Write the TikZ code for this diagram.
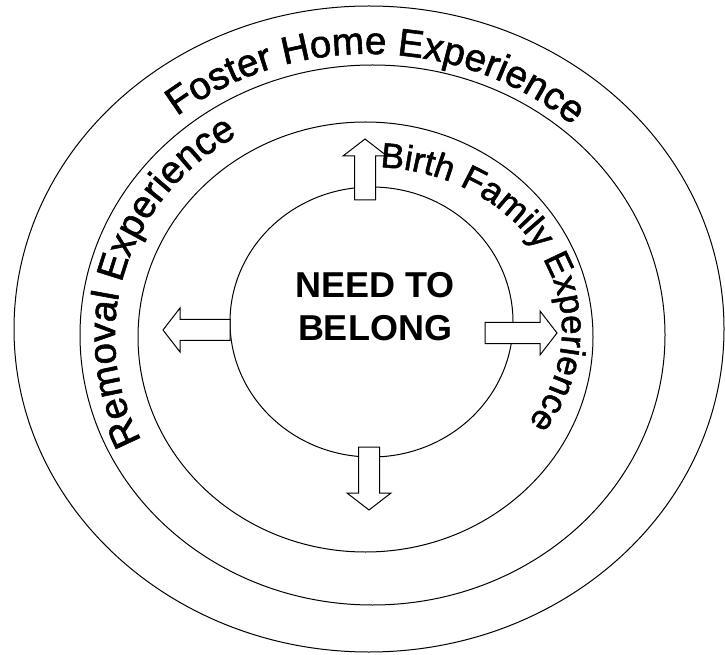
\documentclass[tikz,border=0pt]{standalone}
\usepackage{fontspec}
\setmainfont{Liberation Sans}
\newfontfamily\wordfont[FakeBold=1.5]{Liberation Sans}
\usetikzlibrary{decorations.text}
\newcommand{\arcfont}{\wordfont\fontsize{38.5}{44}\selectfont}
\newcommand{\smallarcfont}{\wordfont\fontsize{35}{40}\selectfont}
% hollow block arrow: base x, base y, angle, length
\newcommand{\blockarrow}[4]{%
  \draw[arrowbox, shift={(#1,#2)}, rotate=#3]
    (0,-10.5) -- (#4-17,-10.5) -- (#4-17,-22) -- (#4,0) -- (#4-17,22) -- (#4-17,10.5) -- (0,10.5) -- cycle;}

\begin{document}
\begin{tikzpicture}[
    x=1pt, y=1pt,
    ring/.style={draw=black, line width=1pt},
    arrowbox/.style={draw=black, fill=white, line width=1pt, line join=miter},
    arclabel/.style={decorate, decoration={text along path, text align=center, text color=black}}
]
    \useasboundingbox (0,0) rectangle (725,654);

    % Rings
    \draw[ring] (369,325) ellipse [x radius=355, y radius=323];
    \draw[ring] (372.5,319) ellipse [x radius=292.5, y radius=270];
    \draw[ring] (365.5,317) ellipse [x radius=227.5, y radius=215];
    \draw[ring] (371.5,332) ellipse [x radius=141.5, y radius=135];

    % Arrows out of the centre
    \blockarrow{365}{454}{90}{61}
    \blockarrow{369}{207}{-90}{63}
    \blockarrow{230}{324}{180}{67}
    \blockarrow{485}{321}{0}{72}

    % Centre
    \node[align=center, font=\bfseries\fontsize{36}{43}\selectfont] (need) at (375,347.5) {NEED TO\\BELONG};

    % Curved labels
    \path[arclabel, decoration={text={|\arcfont|Foster Home Experience}}]
        (369,325) ++(142:303 and 275) arc [start angle=142, end angle=35, x radius=303, y radius=275];
    \path[arclabel, decoration={text={|\arcfont|Removal Experience}}]
        (369,318) ++(214:254 and 234) arc [start angle=214, end angle=114, x radius=254, y radius=234];
    \path[arclabel, decoration={text={|\smallarcfont|Birth Family Experience}}]
        (370,324) ++(92:192 and 163) arc [start angle=92, end angle=-40, x radius=192, y radius=163];
\end{tikzpicture}
\end{document}
